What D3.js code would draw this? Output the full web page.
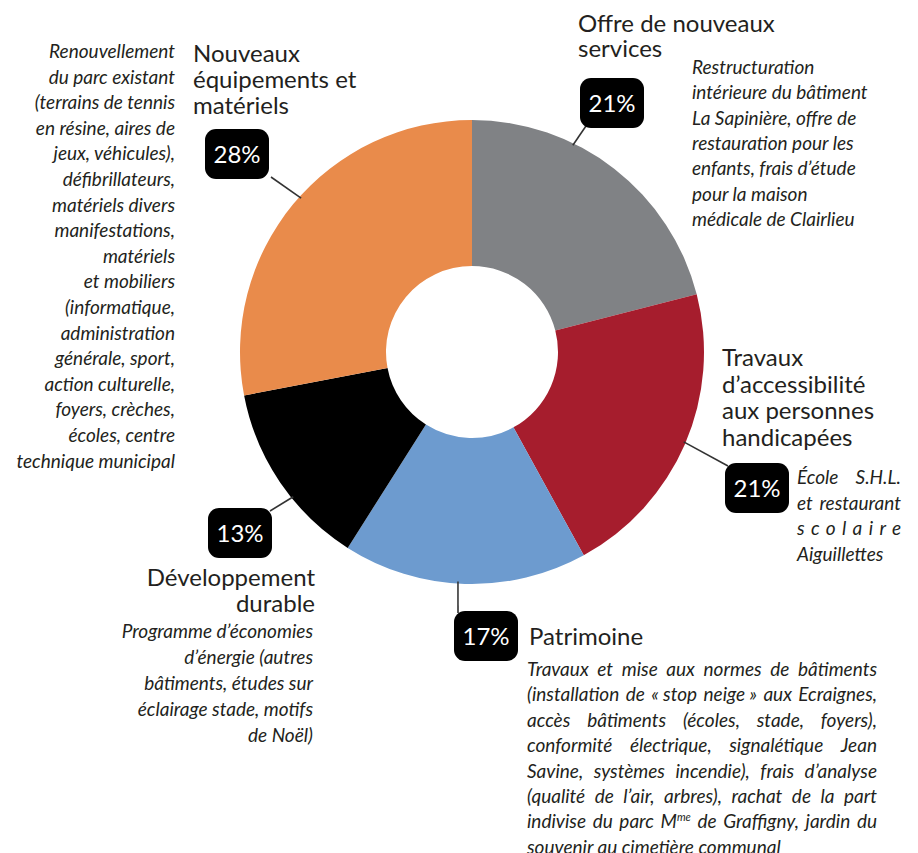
<!DOCTYPE html>
<html lang="fr">
<head>
<meta charset="utf-8">
<title>Investissements</title>
<script src="https://cdn.jsdelivr.net/npm/d3@7"></script>
<style>
  body { margin: 0; background: #fff; }
  svg { display: block; }
  text { font-family: Lato, "Open Sans", sans-serif; fill: #231f20; }
  .title { font-size: 24px; }
  .desc { font-size: 19px; font-style: italic; }
  .pct { font-size: 24px; fill: #fff; }
</style>
</head>
<body>
<div id="chart"></div>
<script>
  // données
  var categories = ["Offre de nouveaux services", "Travaux d’accessibilité aux personnes handicapées",
    "Patrimoine", "Développement durable", "Nouveaux équipements et matériels"];
  var values = [21, 21, 17, 13, 28];
  var colors = ["#808285", "#a61d2d", "#6d9bcf", "#000000", "#e98b4b"];

  var titles = [
    ["Offre de nouveaux", "services"],
    ["Travaux", "d’accessibilité", "aux personnes", "handicapées"],
    ["Patrimoine"],
    ["Développement", "durable"],
    ["Nouveaux", "équipements et", "matériels"]
  ];

  var descriptions = [
    ["Restructuration", "intérieure du bâtiment", "La Sapinière, offre de", "restauration pour les",
      "enfants, frais d’étude", "pour la maison", "médicale de Clairlieu"],
    ["École S.H.L.", "et restaurant", "scolaire", "Aiguillettes"],
    ["Travaux et mise aux normes de bâtiments",
      "(installation de «\u00a0stop neige\u00a0» aux Ecraignes,",
      "accès bâtiments (écoles, stade, foyers),",
      "conformité électrique, signalétique Jean",
      "Savine, systèmes incendie), frais d’analyse",
      "(qualité de l’air, arbres), rachat de la part",
      "indivise du parc M^me de Graffigny, jardin du",
      "souvenir au cimetière communal"],
    ["Programme d’économies", "d’énergie (autres", "bâtiments, études sur", "éclairage stade, motifs", "de Noël)"],
    ["Renouvellement", "du parc existant", "(terrains de tennis", "en résine, aires de", "jeux, véhicules),",
      "défibrillateurs,", "matériels divers", "manifestations,", "matériels", "et mobiliers",
      "(informatique,", "administration", "générale, sport,", "action culturelle,", "foyers, crèches,",
      "écoles, centre", "technique municipal"]
  ];

  // mise en page
  var width = 918, height = 853;
  var cx = 472, cy = 352, outerR = 232, innerR = 86;
  var boxW = 64, boxH = 50;

  var layout = [
    { box: [612, 103], angle: 26, anchor: [586, 126],
      title: { x: 578, y: 32, lh: 25, align: "left" },
      desc: { x: 692, y: 74, lh: 25.3, align: "left" } },
    { box: [757, 488], angle: 113, anchor: [728, 466],
      title: { x: 722, y: 366, lh: 26.7, align: "left" },
      desc: { x: 797, y: 484, lh: 25.6, align: "justify", width: 104 } },
    { box: [486, 636], angle: 183.5, anchor: [458, 613],
      title: { x: 529, y: 645, lh: 26, align: "left" },
      desc: { x: 527, y: 676, lh: 25.4, align: "justify", width: 350 } },
    { box: [240, 533], angle: 231, anchor: [270, 511],
      title: { x: 315, y: 586, lh: 26, align: "right" },
      desc: { x: 313, y: 638, lh: 26, align: "right" } },
    { box: [237, 154], angle: 312, anchor: [271, 177],
      title: { x: 193, y: 62, lh: 26, align: "left" },
      desc: { x: 175, y: 58, lh: 25.6, align: "right" } }
  ];

  var svg = d3.select('#chart')
    .append('svg')
    .attr('width', width)
    .attr('height', height);

  svg.append('rect').attr('width', width).attr('height', height).attr('fill', '#fff');

  var pie = d3.pie().sort(null).value(function (d) { return d; });
  var arc = d3.arc().innerRadius(innerR).outerRadius(outerR);

  svg.append('g')
    .attr('transform', 'translate(' + cx + ',' + cy + ')')
    .selectAll('path')
    .data(pie(values))
    .enter()
    .append('path')
    .attr('d', arc)
    .attr('fill', function (d, i) { return colors[i]; });

  // traits de rappel
  svg.append('g')
    .selectAll('line')
    .data(layout)
    .enter()
    .append('line')
    .attr('x1', function (d) { return cx + (outerR - 2) * Math.sin(d.angle * Math.PI / 180); })
    .attr('y1', function (d) { return cy - (outerR - 2) * Math.cos(d.angle * Math.PI / 180); })
    .attr('x2', function (d) { return d.anchor[0]; })
    .attr('y2', function (d) { return d.anchor[1]; })
    .style('stroke', '#333')
    .style('stroke-width', 1.6);

  // étiquettes de pourcentage
  var labels = svg.append('g')
    .selectAll('g')
    .data(layout)
    .enter()
    .append('g')
    .attr('transform', function (d) { return 'translate(' + d.box[0] + ',' + d.box[1] + ')'; });

  labels.append('rect')
    .attr('x', -boxW / 2)
    .attr('y', -boxH / 2)
    .attr('width', boxW)
    .attr('height', boxH)
    .attr('rx', 11)
    .attr('fill', '#000');

  labels.append('text')
    .attr('class', 'pct')
    .attr('text-anchor', 'middle')
    .attr('dy', '0.36em')
    .text(function (d, i) { return values[i] + '%'; });

  // mot avec exposant éventuel (M^me)
  function addWord(t, w) {
    var parts = w.split('^');
    t.append('tspan').text(parts[0]);
    if (parts.length > 1) {
      t.append('tspan').attr('dy', -7).style('font-size', '11px').text(parts[1]);
    }
  }

  function drawLines(g, lines, opt, cls) {
    lines.forEach(function (line, i) {
      var y = opt.y + i * opt.lh;
      var last = i === lines.length - 1;
      if (opt.align === 'justify' && !last) {
        var words = line.split(' ');
        var nodes = words.map(function (w) {
          var t = g.append('text').attr('class', cls).attr('y', y);
          addWord(t, w);
          return t;
        });
        if (words.length === 1) {
          nodes[0].attr('x', opt.x).attr('textLength', opt.width).attr('lengthAdjust', 'spacing');
          return;
        }
        var widths = nodes.map(function (t) { return t.node().getComputedTextLength(); });
        var gap = (opt.width - d3.sum(widths)) / (words.length - 1);
        var x = opt.x;
        nodes.forEach(function (t, j) {
          t.attr('x', x);
          x += widths[j] + gap;
        });
      } else {
        var t = g.append('text')
          .attr('class', cls)
          .attr('x', opt.x)
          .attr('y', y)
          .attr('text-anchor', opt.align === 'right' ? 'end' : 'start');
        addWord(t, line);
      }
    });
  }

  var texts = svg.append('g');
  layout.forEach(function (d, i) {
    drawLines(texts, titles[i], d.title, 'title');
    drawLines(texts, descriptions[i], d.desc, 'desc');
  });
</script>
</body>
</html>
